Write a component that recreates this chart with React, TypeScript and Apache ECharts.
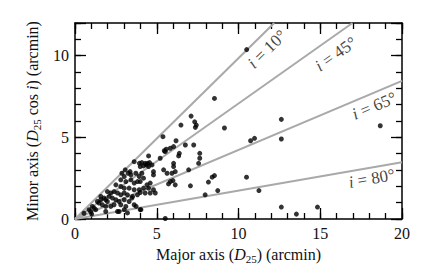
import React, { useEffect, useRef } from "react";
import * as echarts from "echarts";

// Galaxy sizes (arcmin)
const majorAxisD25 = [
  10.5, 8.53, 12.62, 9.14, 18.67, 10.74, 10.98, 12.62, 8.16, 8.39, 8.53, 10.49, 8.73, 11.25, 7.96, 12.62, 13.54, 14.83, 5.52,
  7.1, 7.32, 7.42, 7.36, 6.48, 5.38, 6.18, 5.58, 5.46, 5.83, 6.03, 6.75, 7.26, 6.38, 6.34, 5.21, 4.5, 7.63, 7.63, 7.56,
  6.03, 6.03, 6.95, 5.42, 5.63, 5.93, 6.13, 4.8, 4.8, 5.83, 5.72, 5.99, 6.13, 7.06, 5.52,
  3.94, 4.09, 4.29, 4.44, 4.56, 3.99, 4.19, 4.36, 4.5, 4.71, 3.62,
  4.09, 4.19, 3.99, 4.19, 4.4, 4.6, 4.91, 3.99, 4.29, 4.6, 4.5, 4.8, 3.74, 3.99, 3.48,
  3.25, 3.42, 3.01, 3.72, 3.93, 2.8, 3.11, 3.42, 3.62, 3.82, 2.5, 2.8, 3.01, 3.31, 3.62, 3.93,
  1.98, 2.19, 2.39, 2.6, 2.8, 3.01, 3.21, 3.52, 3.82, 1.58, 1.78, 1.88, 1.98, 2.09, 2.29, 2.5, 2.7, 3.01, 3.31,
  1.37, 1.47, 1.58, 1.67, 1.88, 2.19, 2.39, 2.8, 3.11, 3.62, 1.06, 1.17, 0.86, 0.96, 1.27, 2.7, 3.01, 3.21, 4.03,
  1.02, 1.88, 2.6, 3.07, 3.37, 2.87, 0.55,
];
const minorAxisD25cosI = [
  10.37, 7.38, 6.1, 5.57, 5.71, 4.79, 4.94, 4.9, 2.26, 2.56, 2.66, 2.56, 1.74, 1.74, 1.48, 0.73, 0.3, 0.73, 0.03,
  6.3, 5.95, 5.75, 5.61, 5.75, 5.04, 4.79, 4.27, 4.18, 4.33, 4.43, 4.53, 4.53, 4.02, 3.86, 3.72, 3.86, 4.02, 3.72, 3.41,
  3.41, 3.21, 3.01, 3.01, 2.8, 2.8, 2.9, 2.9, 2.7, 2.29, 2.15, 2.35, 2.09, 2.03, 4.12,
  3.41, 3.45, 3.41, 3.41, 3.45, 3.21, 3.25, 3.31, 3.21, 3.31, 3.51,
  2.8, 2.5, 2.29, 1.89, 2.09, 1.59, 1.59, 1.62, 1.59, 2.2, 1.89, 1.79, 0.77, 0.57, 1.28,
  2.8, 2.7, 2.6, 2.8, 2.6, 2.4, 2.29, 2.4, 2.2, 2.29, 2.09, 1.99, 1.89, 1.89, 1.79, 1.79,
  1.68, 1.59, 1.68, 1.59, 1.48, 1.59, 1.48, 1.38, 1.48, 1.38, 1.28, 1.18, 1.07, 1.38, 1.28, 1.18, 1.07, 1.18, 1.07,
  1.07, 0.98, 1.18, 0.87, 0.77, 0.77, 0.87, 0.87, 0.77, 0.87, 0.77, 0.67, 0.57, 0.46, 0.57, 0.46, 0.57, 0.37, 0.57,
  0.3, 0.46, 0.46, 3.01, 2.9, 2.8, 0.35,
];

// Inclination reference lines (degrees)
const inclinationDeg = [10, 45, 65, 80];

const xTickLabels = [0, 5, 10, 15, 20];
const yTickLabels = [0, 5, 10];
const MAJOR_STEP = 5;
const MINOR_STEP = 1;

// Annotation placement (data coords) for the inclination labels
const labelAnchors = [
  [11.75, 10.4],
  [15.95, 10.1],
  [18.3, 6.92],
  [18.15, 2.48],
];

const FONT = "'Liberation Serif', 'Times New Roman', Times, serif";
const XMAX = 20;
const YMAX = 12;

// grid geometry (px)
const G_LEFT = 75;
const G_RIGHT = 34;
const G_TOP = 23;
const G_BOTTOM = 54;
const W = 436;
const H = 273;
const GW = W - G_LEFT - G_RIGHT;
const GH = H - G_TOP - G_BOTTOM;

export default function App() {
  const ref = useRef<HTMLDivElement>(null);

  useEffect(() => {
    const chart = echarts.init(ref.current!, null, { renderer: "svg" });

    const lineSeries = inclinationDeg.map((deg) => {
      const c = Math.cos((deg * Math.PI) / 180);
      const xEnd = Math.min(XMAX, YMAX / c);
      return {
        type: "line",
        data: [
          [0, 0],
          [xEnd, xEnd * c],
        ],
        symbol: "none",
        silent: true,
        z: 1,
        lineStyle: { color: "#a9a9a9", width: 2 },
      };
    });

    const pxPerX = GW / XMAX;
    const pxPerY = GH / YMAX;

    const labelSeries = inclinationDeg.map((deg, i) => {
      const c = Math.cos((deg * Math.PI) / 180);
      const rot = (Math.atan((c * pxPerY) / pxPerX) * 180) / Math.PI;
      return {
        type: "scatter",
        data: [labelAnchors[i]],
        symbolSize: 0,
        silent: true,
        z: 3,
        label: {
          show: true,
          position: "inside",
          rotate: rot,
          formatter: `{it|i} = ${deg}°`,
          fontFamily: FONT,
          fontSize: 17,
          color: "#111",
          rich: {
            it: { fontFamily: FONT, fontSize: 17, fontStyle: "italic", color: "#111" },
          },
        },
      };
    });

    const pts = majorAxisD25.map((x, i) => [x, minorAxisD25cosI[i]]);

    const lineStyleBlack = { color: "#000", width: 1.5 };

    const richName = {
      n: { fontFamily: FONT, fontSize: 16, color: "#111", lineHeight: 20 },
      it: { fontFamily: FONT, fontSize: 16, fontStyle: "italic", color: "#111", lineHeight: 20 },
      sub: { fontFamily: FONT, fontSize: 11, color: "#111", verticalAlign: "bottom", lineHeight: 11 },
    };

    const axisBaseX = {
      type: "value",
      min: 0,
      max: XMAX,
      interval: MAJOR_STEP,
      splitLine: { show: false },
      axisTick: { show: false },
      minorTick: { show: false },
      axisLine: { show: true, onZero: false, lineStyle: lineStyleBlack },
    };
    const axisBaseY = {
      type: "value",
      min: 0,
      max: YMAX,
      interval: MAJOR_STEP,
      splitLine: { show: false },
      axisTick: { show: false },
      minorTick: { show: false },
      axisLine: { show: true, onZero: false, lineStyle: lineStyleBlack },
    };

    // Tick-only axes: placed on the opposite side and shifted across the grid with a
    // negative offset, so their (outward) ticks point into the plot from each edge.
    const tickAxis = (base: any, position: string, offset: number, interval: number, len: number) => ({
      ...base,
      interval,
      position,
      offset,
      axisLine: { show: false, onZero: false },
      axisLabel: { show: false },
      axisTick: { show: true, inside: false, length: len, lineStyle: { color: "#000", width: 1.3 } },
      minorTick: { show: false },
    });

    chart.setOption({
      animation: false,
      grid: { left: G_LEFT, right: G_RIGHT, top: G_TOP, bottom: G_BOTTOM, containLabel: false },
      xAxis: [
        {
          ...axisBaseX,
          position: "bottom",
          axisLabel: {
            color: "#111",
            fontFamily: FONT,
            fontSize: 16,
            margin: 6,
            formatter: (v: number) => (xTickLabels.includes(v) ? String(v) : ""),
          },
          name: "{n|Major axis (}{it|D}{sub|25}{n|) (arcmin)}",
          nameLocation: "middle",
          nameGap: 25,
          nameTextStyle: { rich: richName },
        },
        { ...axisBaseX, position: "top", axisLabel: { show: false } },
        // bottom edge, pointing up
        tickAxis(axisBaseX, "top", -GH, MAJOR_STEP, 11),
        tickAxis(axisBaseX, "top", -GH, MINOR_STEP, 6),
        // top edge, pointing down
        tickAxis(axisBaseX, "bottom", -GH, MAJOR_STEP, 11),
        tickAxis(axisBaseX, "bottom", -GH, MINOR_STEP, 6),
      ],
      yAxis: [
        {
          ...axisBaseY,
          position: "left",
          axisLabel: {
            color: "#111",
            fontFamily: FONT,
            fontSize: 16,
            margin: 6,
            formatter: (v: number) => (yTickLabels.includes(v) ? String(v) : ""),
          },
          name: "{n|Minor axis (}{it|D}{sub|25}{n| cos }{it|i}{n|) (arcmin)}",
          nameLocation: "middle",
          nameGap: 30,
          nameTextStyle: { rich: richName },
        },
        { ...axisBaseY, position: "right", axisLabel: { show: false } },
        // left edge, pointing right
        tickAxis(axisBaseY, "right", -GW, MAJOR_STEP, 11),
        tickAxis(axisBaseY, "right", -GW, MINOR_STEP, 6),
        // right edge, pointing left
        tickAxis(axisBaseY, "left", -GW, MAJOR_STEP, 11),
        tickAxis(axisBaseY, "left", -GW, MINOR_STEP, 6),
      ],
      series: [
        ...lineSeries,
        {
          type: "scatter",
          data: pts,
          symbol: "circle",
          symbolSize: 5,
          itemStyle: { color: "#000" },
          z: 2,
        },
        ...labelSeries,
      ],
    });

    return () => chart.dispose();
  }, []);

  return (
    <div
      ref={ref}
      style={{ position: "fixed", left: 0, top: 0, width: W, height: H, background: "#fff" }}
    />
  );
}
